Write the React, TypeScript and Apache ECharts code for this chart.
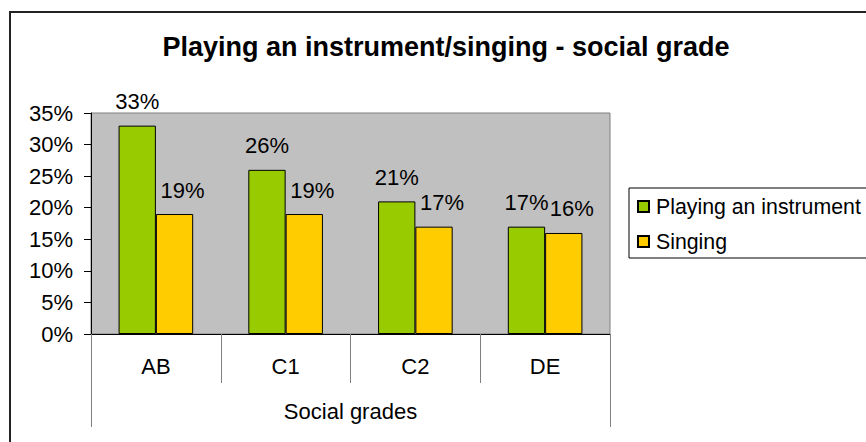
import React, { useEffect, useRef } from "react";
import * as echarts from "echarts";

const categories = ["AB", "C1", "C2", "DE"];
const playingInstrument = [33, 26, 21, 17];
const singing = [19, 19, 17, 16];
const seriesNames = ["Playing an instrument", "Singing"];
const outerCategory = ["Social grades"];
const titleText = "Playing an instrument/singing - social grade";

const FONT = "'Liberation Sans', Arial, sans-serif";
const FS = 22;

export default function App() {
  const ref = useRef<HTMLDivElement>(null);
  useEffect(() => {
    document.body.style.margin = "0";
    const chart = echarts.init(ref.current!, null, { renderer: "svg" });
    const labelCommon = {
      show: true,
      position: "top" as const,
      distance: 13,
      formatter: "{c}%",
      color: "#000",
      fontSize: FS,
      fontFamily: FONT,
    };
    chart.setOption({
      animation: false,
      backgroundColor: "#fff",
      textStyle: { fontFamily: FONT },
      graphic: [
        {
          type: "rect",
          shape: { x: 10, y: 12, width: 900, height: 500 },
          style: { fill: "none", stroke: "#222", lineWidth: 2 },
          silent: true,
          z: -1,
        },
        {
          type: "text",
          x: 446,
          y: 47,
          style: {
            text: titleText,
            textAlign: "center",
            textVerticalAlign: "middle",
            fontSize: 27,
            fontWeight: "bold",
            fontFamily: FONT,
            fill: "#000",
          },
        },
      ],
      legend: {
        orient: "vertical",
        left: 629,
        top: 188,
        data: seriesNames,
        itemWidth: 11,
        itemHeight: 11,
        itemGap: 14,
        padding: [8, 30, 6, 8],
        borderColor: "#000",
        borderWidth: 1,
        backgroundColor: "#fff",
        icon: "rect",
        textStyle: { fontSize: 21.3, color: "#000", fontFamily: FONT, padding: [0, 0, 0, 2] },
      },
      grid: {
        left: 91,
        top: 113,
        width: 519,
        height: 221,
        show: true,
        backgroundColor: "#C0C0C0",
        borderColor: "#808080",
        borderWidth: 1,
      },
      xAxis: [
        {
          type: "category",
          data: categories,
          position: "bottom",
          axisLine: { show: true, lineStyle: { color: "#000", width: 1 } },
          axisTick: { show: true, interval: 0, length: 49, lineStyle: { color: "#808080" } },
          axisLabel: { fontSize: FS, color: "#000", margin: 21, fontFamily: FONT },
          splitLine: { show: false },
        },
        {
          type: "category",
          data: outerCategory,
          position: "bottom",
          offset: 49,
          axisLine: { show: false },
          axisTick: { show: true, interval: 0, length: 44, lineStyle: { color: "#808080" } },
          axisLabel: { fontSize: FS, color: "#000", margin: 17, fontFamily: FONT },
          splitLine: { show: false },
        },
      ],
      yAxis: {
        type: "value",
        min: 0,
        max: 35,
        interval: 5,
        axisLine: { show: true, lineStyle: { color: "#000", width: 1 } },
        axisTick: { show: true, inside: false, length: 7, lineStyle: { color: "#000" } },
        axisLabel: { formatter: "{value}%", fontSize: FS, color: "#000", margin: 18, fontFamily: FONT },
        splitLine: { show: false },
      },
      series: [
        {
          name: seriesNames[0],
          type: "bar",
          xAxisIndex: 0,
          data: playingInstrument,
          barGap: "0%",
          barCategoryGap: "42.5%",
          itemStyle: { color: "#99CC00", borderColor: "#000", borderWidth: 1 },
          label: { ...labelCommon },
        },
        {
          name: seriesNames[1],
          type: "bar",
          xAxisIndex: 0,
          data: singing,
          barGap: "0%",
          barCategoryGap: "42.5%",
          itemStyle: { color: "#FFCC00", borderColor: "#000", borderWidth: 1 },
          label: { ...labelCommon, offset: [8, 0] },
        },
      ],
    });
    return () => chart.dispose();
  }, []);
  return <div ref={ref} style={{ width: 866, height: 442 }} />;
}
